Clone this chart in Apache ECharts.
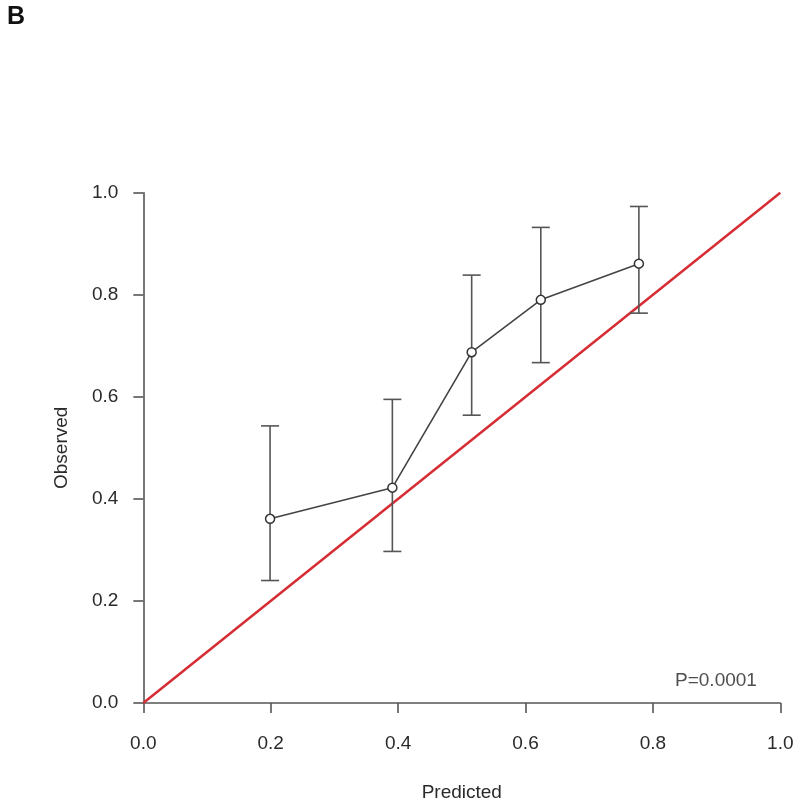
<!DOCTYPE html>
<html>
<head>
<meta charset="utf-8">
<script src="https://cdn.jsdelivr.net/npm/echarts@6/dist/echarts.min.js"></script>
<style>
html,body{margin:0;padding:0;background:#fff;}
#chart{width:800px;height:807px;}
</style>
</head>
<body>
<div id="chart"></div>
<script>
// Data
var predicted = [0.199, 0.391, 0.5155, 0.624, 0.778];
var observed  = [0.361, 0.422, 0.6875, 0.790, 0.861];
var upper     = [0.543, 0.595, 0.8385, 0.932, 0.973];
var lower     = [0.240, 0.297, 0.564, 0.667, 0.764];
var diagonal  = [[0, 0], [1, 1]];
var tickValues = [0, 0.2, 0.4, 0.6, 0.8, 1.0];
var panelLabel = 'B';
var xName = 'Predicted';
var yName = 'Observed';
var pText = 'P=0.0001';
var pPos = [0.899, 0.0436];

var FONT = '"Liberation Sans", Arial, Helvetica, sans-serif';
var chart = echarts.init(document.getElementById('chart'), null, {renderer: 'canvas'});

var pts = predicted.map(function (x, i) { return [x, observed[i]]; });
var bars = predicted.map(function (x, i) { return [x, lower[i], upper[i]]; });

var axisCommon = {
  type: 'value', min: 0, max: 1, interval: 0.2,
  splitLine: {show: false},
  axisLine: {show: true, lineStyle: {color: '#555', width: 1.6}},
  axisTick: {show: true, inside: false, length: 10, lineStyle: {color: '#555', width: 1.6}},
  nameLocation: 'middle',
  nameTextStyle: {fontFamily: FONT, fontSize: 19, color: '#2a2a2a'}
};

var option = {
  backgroundColor: '#fff',
  animation: false,
  title: {
    text: panelLabel, left: 2, top: 0,
    textStyle: {fontFamily: FONT, fontSize: 25, fontWeight: 'bold', color: '#111'}
  },
  grid: {left: 143.3, right: 19.7, top: 192.7, bottom: 100.3},
  xAxis: Object.assign({}, axisCommon, {
    name: xName, nameGap: 80,
    axisLabel: {fontFamily: FONT, fontSize: 19, color: '#2a2a2a', margin: 31,
      formatter: function (v) { return v.toFixed(1); }}
  }),
  yAxis: Object.assign({}, axisCommon, {
    name: yName, nameGap: 72, nameRotate: 90,
    axisLabel: {fontFamily: FONT, fontSize: 19, color: '#2a2a2a', margin: 25,
      formatter: function (v) { return v.toFixed(1); }}
  }),
  series: [
    {
      type: 'line', data: diagonal, symbol: 'none', z: 2,
      lineStyle: {color: '#d62d35', width: 2.5}
    },
    {
      type: 'custom', data: bars, z: 3,
      renderItem: function (params, api) {
        var x = api.value(0);
        var lo = api.coord([x, api.value(1)]);
        var hi = api.coord([x, api.value(2)]);
        var cw = 9;
        var st = {stroke: '#555', lineWidth: 1.6};
        return {
          type: 'group',
          children: [
            {type: 'line', shape: {x1: lo[0], y1: lo[1], x2: hi[0], y2: hi[1]}, style: st},
            {type: 'line', shape: {x1: lo[0] - cw, y1: lo[1], x2: lo[0] + cw, y2: lo[1]}, style: st},
            {type: 'line', shape: {x1: hi[0] - cw, y1: hi[1], x2: hi[0] + cw, y2: hi[1]}, style: st}
          ]
        };
      }
    },
    {
      type: 'line', data: pts, z: 4,
      symbol: 'circle', symbolSize: 9, showSymbol: true,
      lineStyle: {color: '#444', width: 1.6},
      itemStyle: {color: '#fff', borderColor: '#333', borderWidth: 1.5}
    },
    {
      type: 'scatter', data: [pPos], symbolSize: 0, z: 5,
      label: {show: true, position: 'inside', formatter: pText,
        fontFamily: FONT, fontSize: 19, color: '#222'}
    }
  ]
};
chart.setOption(option);
</script>
</body>
</html>
